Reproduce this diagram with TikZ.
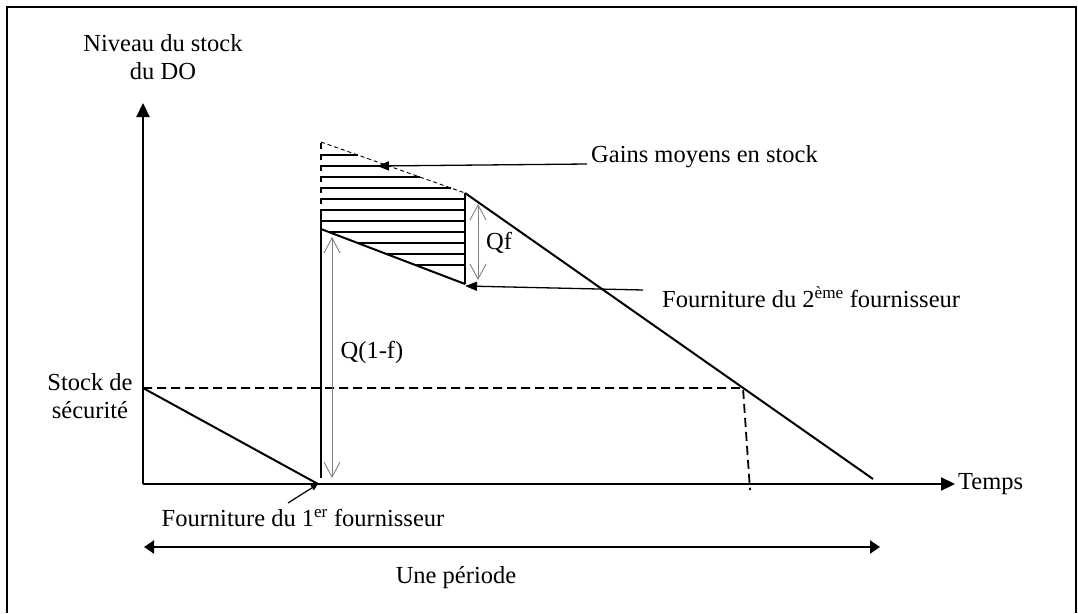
\documentclass[tikz,border=0pt]{standalone}
\usepackage{fontspec}
\setmainfont{Liberation Serif}
\usetikzlibrary{arrows.meta}
\begin{document}
\begin{tikzpicture}[x=1pt,y=-1pt,
  lbl/.style={font=\fontsize{24.5}{28}\selectfont, inner sep=0pt, align=center},
  axisline/.style={line width=2.2pt, -{Triangle[length=14pt,width=13pt]}},
  mainline/.style={line width=2pt},
  hatchline/.style={line width=1.6pt},
  dimarrow/.style={line width=0.9pt, draw=gray, {Straight Barb[length=15pt,width=16pt]}-{Straight Barb[length=15pt,width=16pt]}},
  pointer/.style={line width=1.3pt, -{Triangle[length=12pt,width=9pt]}},
  safety/.style={line width=1.8pt, dash pattern=on 9pt off 5pt},
]
\useasboundingbox (0,0) rectangle (1078,613);
% frame
\draw[line width=1.4pt] (7,613) -- (7,7) -- (1076,7) -- (1076,613);

% key points
\coordinate (O) at (143,484);
\coordinate (Ytop) at (143,103);
\coordinate (Xend) at (955,484);
\coordinate (S) at (143,388);
\coordinate (A) at (318,484);
\coordinate (Vb) at (321,478);
\coordinate (Vt) at (321,215);
\coordinate (G) at (321,142);
\coordinate (C) at (321,229);
\coordinate (D) at (465,284);
\coordinate (E) at (465,193);
\coordinate (F) at (873,479);
\coordinate (H) at (743,388);
\coordinate (I) at (750,490);

% axes
\draw[axisline] (O) -- (Ytop);
\draw[axisline] (O) -- (Xend);

% stock lines
\draw[mainline] (S) -- (A);
\draw[mainline] (Vb) -- (Vt);
\draw[line width=1.5pt, dash pattern=on 6pt off 5pt] (Vt) -- (G);
\draw[mainline] (C) -- (D);
\draw[mainline] (D) -- (E);
\draw[mainline] (E) -- (F);
\draw[line width=0.9pt, dash pattern=on 4pt off 3pt] (G) -- (E);

% hatching
\draw[hatchline] (321,155) -- (357.7,155);
\draw[hatchline] (321,166) -- (388.8,166);
\draw[hatchline] (321,177) -- (419.8,177);
\draw[hatchline] (321,188) -- (450.9,188);
\draw[hatchline] (321,199) -- (465,199);
\draw[hatchline] (321,210) -- (465,210);
\draw[hatchline] (321,221) -- (465,221);
\draw[hatchline] (328.9,232) -- (465,232);
\draw[hatchline] (357.7,243) -- (465,243);
\draw[hatchline] (386.5,254) -- (465,254);
\draw[hatchline] (415.3,265) -- (465,265);

% safety stock dashed
\draw[safety] (S) -- (H) -- (I);

% dimension arrows
\coordinate (qft) at (478,204);
\coordinate (qfb) at (478,280);
\draw[dimarrow] (qft) -- (qfb);
\coordinate (q1t) at (332,237);
\coordinate (q1b) at (332,478);
\draw[dimarrow] (q1t) -- (q1b);
\node[lbl] (qf) at (499,243) {Qf};
\node[lbl] (q1f) at (372,352) {Q(1-f)};

% labels
\node[lbl] (ylab) at (163,57) {Niveau du stock\\du DO};
\node[lbl] (sslab) at (90,396) {Stock de\\sécurité};
\node[lbl, anchor=west] (temps) at (958,484) {Temps};
\node[lbl, anchor=west] (gains) at (591,157) {Gains moyens en stock};
\node[lbl, anchor=west] (f2) at (662,297) {Fourniture du 2\textsuperscript{ème} fournisseur};
\node[lbl] (f1) at (303,518) {Fourniture du 1\textsuperscript{er} fournisseur};
\node[lbl] (per) at (456,578) {Une période};

% pointers
\coordinate (gs) at (587,164);
\coordinate (ge) at (377,166);
\draw[pointer] (gs) -- (ge);
\coordinate (f2s) at (643,290);
\coordinate (f2e) at (465,286);
\draw[pointer] (f2s) -- (f2e);
\coordinate (f1s) at (288,503);
\draw[line width=1.2pt, -{Triangle[length=7pt,width=6pt]}] (f1s) -- (A);

% period
\coordinate (pl) at (144,547);
\coordinate (pr) at (880,547);
\draw[line width=2pt, {Triangle[length=10pt,width=13pt]}-{Triangle[length=10pt,width=13pt]}] (pl) -- (pr);
\end{tikzpicture}
\end{document}
